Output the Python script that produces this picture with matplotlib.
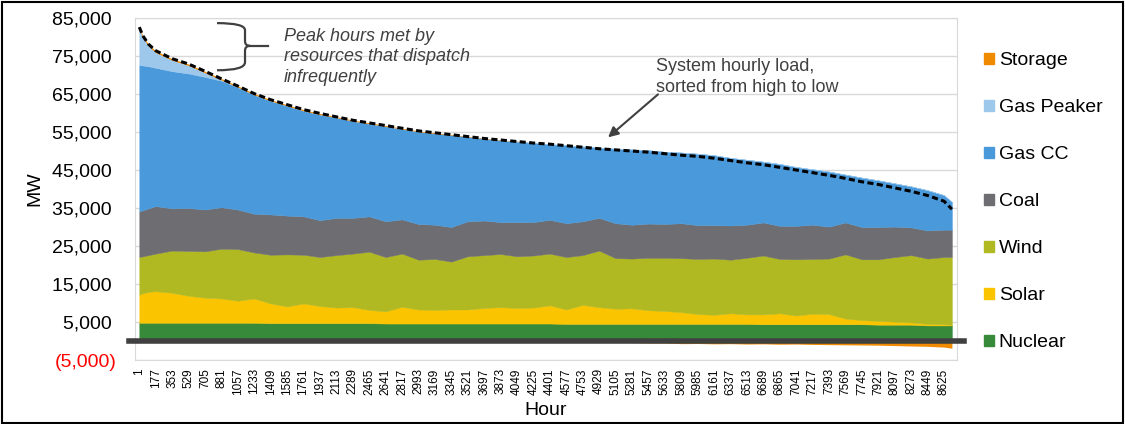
import numpy as np
import matplotlib
matplotlib.use("Agg")
import matplotlib.pyplot as plt
from matplotlib.patches import Patch, Rectangle, PathPatch
from matplotlib.path import Path

plt.rcParams["font.family"] = ["Liberation Sans", "DejaVu Sans"]

# hour of the year, load-duration order
hours = [1, 40, 100] + list(range(177, 8626, 176)) + [8710]

# system load, MW (sorted high to low)
load = [82600, 80300, 78100, 76400, 74300, 72900, 71000, 69000, 67100, 65100,
        63500, 62200, 60900, 59900, 59000, 58100, 57400, 56700, 56000, 55300,
        54800, 54300, 53800, 53300, 52900, 52500, 52100, 51800, 51400, 51000,
        50600, 50300, 50000, 49700, 49300, 48900, 48600, 48100, 47500, 46900,
        46400, 45700, 45000, 44300, 43600, 42800, 41900, 41200, 40300, 39400,
        38300, 36800, 34700]

nuclear = [4800, 4800, 4800, 4800, 4800, 4800, 4800, 4800, 4800, 4800,
           4700, 4700, 4700, 4700, 4700, 4700, 4700, 4600, 4600, 4600,
           4600, 4600, 4600, 4600, 4600, 4600, 4600, 4600, 4500, 4500,
           4500, 4500, 4500, 4500, 4500, 4500, 4500, 4500, 4500, 4500,
           4400, 4400, 4400, 4400, 4400, 4400, 4400, 4300, 4300, 4300,
           4100, 4100, 4100]

solar = [7400, 7800, 8100, 8300, 7900, 7100, 6600, 6400, 5800, 6400,
         5200, 4400, 5200, 4500, 4100, 4200, 3500, 3200, 4400, 3700,
         3600, 3700, 3700, 4100, 4300, 4100, 4200, 4800, 3800, 5000,
         4400, 4000, 4100, 3600, 3400, 3100, 2600, 2400, 2800, 2500,
         2600, 2900, 2300, 2800, 2700, 1500, 1100, 1000, 800, 600,
         400, 300, 200]

wind = [9900, 9700, 9700, 9900, 11100, 11800, 12200, 13100, 13600, 12100,
        12800, 13700, 12800, 12900, 13800, 14100, 15300, 14300, 14000, 13100,
        13400, 12600, 14000, 13900, 14000, 13600, 13700, 13600, 13800, 13100,
        14900, 13300, 13100, 13800, 14000, 14200, 14500, 14800, 14100, 14900,
        15500, 14300, 14800, 14400, 14600, 16900, 16000, 16200, 17000, 17700,
        17200, 17700, 17800]

coal = [12000, 12100, 12300, 12500, 11100, 11300, 11000, 10900, 10400, 10200,
        10600, 10200, 10100, 9700, 9800, 9400, 9300, 9400, 9000, 9400,
        9000, 9100, 9200, 9100, 8400, 9000, 8800, 8900, 8900, 8900,
        8600, 9200, 8900, 9000, 8900, 9200, 8900, 8800, 9000, 8700,
        8700, 8700, 8800, 9000, 8400, 8400, 8500, 8500, 8000, 7300,
        7400, 7200, 7200]

gas_cc = [38500, 38100, 37400, 36400, 36100, 35400, 34900, 33300, 32200, 31300,
          29900, 28900, 27800, 27800, 26400, 25500, 24400, 25000, 23800, 24300,
          24000, 24200, 22200, 21500, 21500, 21200, 20800, 19900, 20500, 19700,
          18500, 19600, 19800, 19300, 19000, 18600, 18800, 18400, 17800, 17100,
          16000, 16300, 15500, 14600, 14500, 12600, 13000, 12300, 11400, 10800,
          10600, 9100, 7300]

gas_peaker = [9600, 7300, 5300, 4000, 2900, 2100, 1100, 200, 0, 0,
              0, 0, 0, 0, 0, 0, 0, 0, 0, 0,
              0, 0, 0, 0, 0, 0, 0, 0, 0, 0,
              0, 0, 0, 0, 0, 0, 0, 0, 0, 0,
              0, 0, 0, 0, 0, 0, 0, 0, 0, 0,
              0, 0, 0]

# positive = discharging, negative = charging
storage = [400, 500, 500, 450, 400, 400, 400, 350, 350, 350,
           300, 300, 300, 300, 250, 250, 250, 250, 200, 200,
           200, 150, 150, 100, 100, 50, 0, 0, -100, -200,
           -300, -300, -400, -500, -500, -700, -650, -750, -700, -800,
           -750, -850, -800, -900, -950, -1000, -1050, -1100, -1200, -1300,
           -1400, -1600, -1900]

names = ["Nuclear", "Solar", "Wind", "Coal", "Gas CC", "Gas Peaker", "Storage"]
colors = ["#378A3A", "#FAC400", "#B1B922", "#6E6D72", "#4A9ADB", "#9DC8EC", "#F08A00"]

tick_hours = list(range(1, 8626, 176))
y_ticks = [-5000, 5000, 15000, 25000, 35000, 45000, 55000, 65000, 75000, 85000]

fig = plt.figure(figsize=(11.25, 4.24), dpi=100)
ax = fig.add_axes([0.12, 0.1509, 0.7307, 0.8066])

st = np.array(storage)
polys = ax.stackplot(hours, nuclear, solar, wind, coal, gas_cc, gas_peaker,
                     np.clip(st, 0, None), colors=colors, linewidth=0.3,
                     edgecolor="face", zorder=2)
polys[-1].set_linewidth(0)
ax.fill_between(hours, np.clip(st, None, 0), 0, color=colors[-1],
                linewidth=0, zorder=2)

ax.plot(hours, load, color="black", lw=2.2, ls=(0, (2, 1.1)), zorder=4)

# heavy zero line
ax.axhline(0, xmin=-0.007, xmax=1.008, color="#404040", lw=4, zorder=3,
           clip_on=False)

ax.set_xlim(-45, 8765)
ax.set_ylim(-5000, 85000)
ax.set_yticks(y_ticks)
ax.set_yticklabels(["(5,000)"] + [f"{v:,} " for v in y_ticks[1:]], fontsize=14)
ax.get_yticklabels()[0].set_color("red")
ax.set_xticks(tick_hours)
ax.set_xticklabels([str(h) for h in tick_hours], rotation=90, fontsize=8.5)
ax.tick_params(length=0)
ax.tick_params(axis="y", pad=13)
ax.tick_params(axis="x", pad=6)
ax.grid(axis="y", color="#D9D9D9", lw=1)
ax.set_axisbelow(True)
for s in ax.spines.values():
    s.set_color("#D9D9D9")

ax.set_xlabel("Hour", fontsize=14, labelpad=5)
ax.set_ylabel("MW", fontsize=14, labelpad=6)

# callouts
ax.text(1553, 82500, "Peak hours met by\nresources that dispatch\ninfrequently",
        style="italic", fontsize=13, color="#404040", va="top", ha="left",
        linespacing=1.3)
brace = Path(
    [(834, 83660), (1134, 83660), (1134, 81810), (1134, 78910),
     (1134, 77670), (1188, 77670),
     (1134, 77670), (1134, 76400), (1134, 73360),
     (1134, 71250), (834, 71250)],
    [Path.MOVETO, Path.CURVE3, Path.CURVE3, Path.LINETO,
     Path.CURVE3, Path.CURVE3,
     Path.CURVE3, Path.CURVE3, Path.LINETO,
     Path.CURVE3, Path.CURVE3])
ax.add_patch(PathPatch(brace, fill=False, ec="#404040", lw=1.6, zorder=5))
ax.plot([1188, 1380], [77670, 77670], color="#404040", lw=1.6, zorder=5)

ax.text(5538, 74600, "System hourly load,\nsorted from high to low",
        fontsize=13, color="#404040", va="top", ha="left", linespacing=1.35)
ax.annotate("", xy=(5025, 53600), xytext=(5560, 64900),
            arrowprops=dict(arrowstyle="-|>", color="#404040", lw=1.5,
                            shrinkA=0, shrinkB=0, mutation_scale=15))

handles = [Patch(color=c, label=n) for n, c in zip(names, colors)][::-1]
fig.legend(handles=handles, loc="upper left", bbox_to_anchor=(0.868, 0.895),
           frameon=False, fontsize=14, handlelength=0.5, handleheight=0.5,
           handletextpad=0.25, labelspacing=1.54, borderaxespad=0)

fig.patches.append(Rectangle((0.002, 0.003), 0.996, 0.993,
                             transform=fig.transFigure, fill=False,
                             ec="black", lw=1.5))

fig.savefig("out.png", dpi=100)
